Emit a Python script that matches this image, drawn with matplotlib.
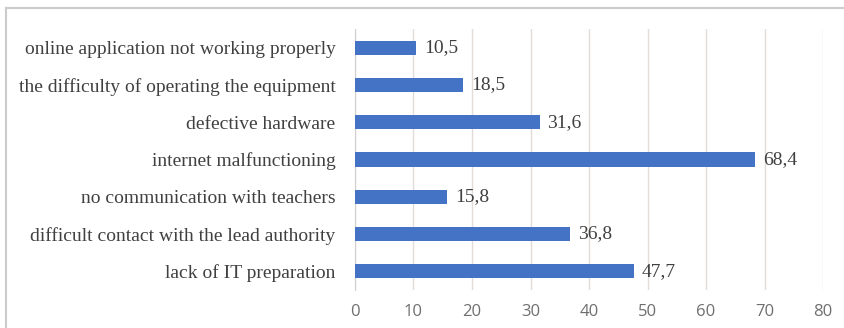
import matplotlib.pyplot as plt
from matplotlib.lines import Line2D

categories = [
    "lack of IT preparation",
    "difficult contact with the lead authority",
    "no communication with teachers",
    "internet malfunctioning",
    "defective hardware",
    "the difficulty of operating the equipment",
    "online application not working properly",
]
values = [47.7, 36.8, 15.8, 68.4, 31.6, 18.5, 10.5]
value_labels = ["47,7", "36,8", "15,8", "68,4", "31,6", "18,5", "10,5"]
xticks = [0, 10, 20, 30, 40, 50, 60, 70, 80]

W, H = 845, 328
fig = plt.figure(figsize=(W / 100, H / 100), dpi=100)
ax = fig.add_axes([355 / W, 1 - 290 / H, (823 - 355) / W, (290 - 29) / H])

y = range(len(categories))
ax.barh(y, values, height=0.38, color="#4472C4", zorder=3)
for yi, v, lab in zip(y, values, value_labels):
    ax.text(v + 1.3, yi, lab, va="center", ha="left", fontsize=14,
            family="Liberation Serif", color="#404040")

ax.set_xlim(0, 80)
ax.set_ylim(-0.5, len(categories) - 0.5)
ax.set_xticks(xticks)
ax.set_xticklabels([str(t) for t in xticks], family="Open Sans", fontsize=12,
                   color="#6f6f6f")
ax.set_yticks(list(y))
ax.set_yticklabels(categories, family="Liberation Serif", fontsize=14,
                   color="#404040")
ax.tick_params(axis="both", length=0)
ax.tick_params(axis="x", pad=10)
ax.tick_params(axis="y", pad=14)
ax.grid(axis="x", color="#e2dcd8", linewidth=1, zorder=0)
for s in ["top", "right", "bottom"]:
    ax.spines[s].set_visible(False)
ax.spines["left"].set_color("#d0d0d0")

# outer chart frame (top and left edges)
fig.add_artist(Line2D([6 / W, 6 / W], [0, 1 - 8 / H], color="#cccccc", lw=1.5,
                      transform=fig.transFigure))
fig.add_artist(Line2D([6 / W, 1], [1 - 8 / H, 1 - 8 / H], color="#cccccc", lw=1.5,
                      transform=fig.transFigure))

fig.savefig("out.png", dpi=100)
